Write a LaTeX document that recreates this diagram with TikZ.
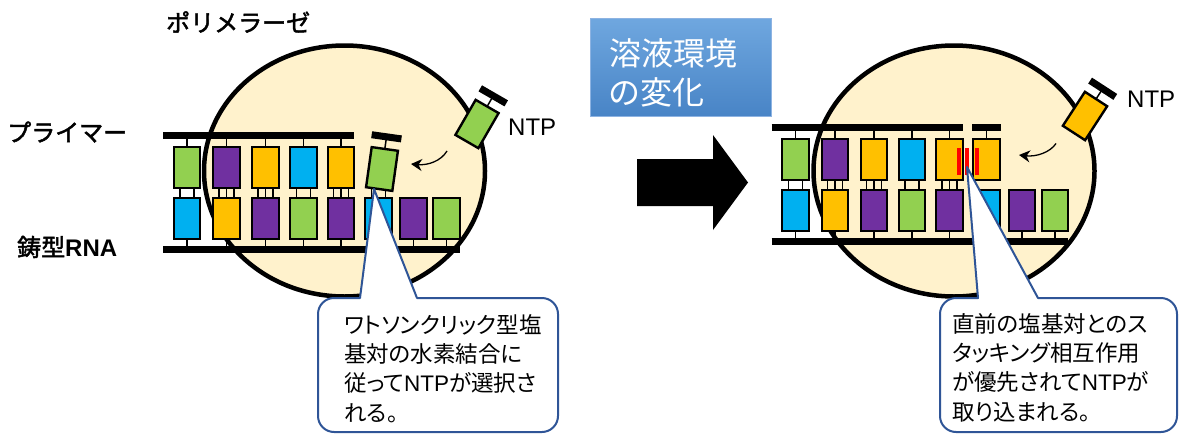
\documentclass[tikz,border=0pt]{standalone}
\usepackage{fontspec}
\setmainfont{Noto Sans CJK JP}[RawFeature=+palt, AutoFakeBold=2]
\newfontfamily\jplabel{Noto Sans CJK JP}[AutoFakeBold=2]
\newfontfamily\lat{Liberation Sans}
\usetikzlibrary{arrows.meta,shapes.geometric}

\definecolor{ntG}{HTML}{92D050}
\definecolor{ntP}{HTML}{7030A0}
\definecolor{ntY}{HTML}{FFC000}
\definecolor{ntB}{HTML}{00B0F0}
\definecolor{enz}{HTML}{FFF2CC}
\definecolor{callline}{HTML}{2F5597}
\definecolor{envtop}{HTML}{6FA7DF}
\definecolor{envbot}{HTML}{4884C6}
\definecolor{envedge}{HTML}{8DB3E2}

\tikzset{
  ntbox/.style={draw=black, line width=2.4pt, minimum width=26.5pt, minimum height=40.5pt, inner sep=0pt, outer sep=0pt},
  boxG/.style={ntbox, fill=ntG},
  boxP/.style={ntbox, fill=ntP},
  boxY/.style={ntbox, fill=ntY},
  boxB/.style={ntbox, fill=ntB},
  strandbar/.style={line width=7pt},
  link/.style={line width=1.5pt},
  enzyme/.style={ellipse, draw=black, line width=4.5pt, fill=enz, minimum width=281pt, minimum height=251pt, inner sep=0pt},
  callout/.style={draw=callline, line width=2pt, fill=white, line join=round},
  lbl/.style={anchor=west, inner sep=0pt, font=\jplabel\fontsize{24pt}{28pt}\selectfont\bfseries},
  ntplbl/.style={anchor=west, inner sep=0pt, font=\lat\fontsize{24pt}{28pt}\selectfont},
  calltext/.style={anchor=west, inner sep=0pt, align=left, font=\fontsize{22.5pt}{29.3pt}\selectfont},
  moveto/.style={line width=1.3pt, -{Stealth[length=11pt, width=12pt]}}
}

\begin{document}
\begin{tikzpicture}[x=1pt, y=-1pt]
\useasboundingbox (0,0) rectangle (1184,434);

% ---------- polymerase bodies ----------
\node[enzyme] (polL) at (344.5,171) {};
\node[enzyme] (polR) at (954,171) {};

% ---------- left: Watson-Crick selection ----------
\coordinate (LpA) at (163,135);   \coordinate (LpB) at (354,135);
\coordinate (LtA) at (163,249.5); \coordinate (LtB) at (459.5,249.5);
\foreach \i/\x/\c in {1/187/G, 2/226.5/P, 3/265.5/Y, 4/303.5/B, 5/341/Y}
  \node[box\c] (Lt\i) at (\x,167.5) {};
\foreach \i/\x/\c in {1/187/B, 2/226.5/Y, 3/265.5/P, 4/303.5/G, 5/341/P, 6/378.5/B, 7/413.5/P, 8/446.5/G}
  \node[box\c] (Lb\i) at (\x,218.5) {};
\foreach \i in {1,...,5} \draw[link] (Lt\i.north) -- (Lt\i.north |- LpA);
\foreach \i in {1,...,8} \draw[link] (Lb\i.south) -- (Lb\i.south |- LtA);
\foreach \i in {1,4} \foreach \d in {-7,7}
  \draw[link] ([xshift=\d pt]Lt\i.south) -- ([xshift=\d pt]Lb\i.north);
\foreach \i in {2,3,5} \foreach \d in {-7.5,0,7.5}
  \draw[link] ([xshift=\d pt]Lt\i.south) -- ([xshift=\d pt]Lb\i.north);
\draw[strandbar] (LpA) -- (LpB);
\draw[strandbar] (LtA) -- (LtB);
% incoming nucleotide pairing with the template
\begin{scope}[shift={(382,169)}, rotate=-8]
  \node[boxG, transform shape] (Lt6) at (0,0) {};
  \coordinate (Lt6bar) at (0,-32.5);
  \draw[link] (Lt6.north) -- (Lt6bar);
  \draw[strandbar] (-15,-32.5) -- (15,-32.5);
\end{scope}
\foreach \d in {-7,7}
  \draw[link] ([xshift=\d pt]Lb6.north) -- ([xshift=\d pt]Lb6.north |- Lt6.south);
% free NTP
\begin{scope}[shift={(477,124)}, rotate=-30]
  \node[boxG, transform shape] (LntpBox) at (0,0) {};
  \coordinate (LntpBar) at (0,-32.5);
  \draw[link] (LntpBox.north) -- (LntpBar);
  \draw[strandbar] (-15,-32.5) -- (15,-32.5);
\end{scope}
\coordinate (LmvA) at (447,151);
\coordinate (LmvB) at (411,164);
\draw[moveto] (LmvA) .. controls (441,161) and (428,165.5) .. (LmvB);

% ---------- labels ----------
\node[lbl] (polname) at (166,22) {ポリメラーゼ};
\node[lbl] (primer) at (7,132) {プライマー};
\node[lbl] (template) at (17,247) {鋳型{\lat RNA}};
\node[ntplbl] (ntpL) at (508,127) {NTP};
\node[ntplbl] (ntpR) at (1127,99) {NTP};

% ---------- change of solution conditions ----------
\node[draw=envedge, line width=0.8pt, top color=envtop, bottom color=envbot,
      minimum width=181pt, minimum height=98pt, anchor=north west, inner sep=0pt] (env) at (590,18) {};
\node[anchor=west, inner sep=0pt, align=left, text=white,
      font=\fontsize{32pt}{39pt}\selectfont] (envtext) at (609,72.5) {溶液環境\\の変化};
\fill (637,159) -- (713,159) -- (713,135) -- (748,182.5) -- (713,230) -- (713,206) -- (637,206) -- cycle;

% ---------- right: stacking-driven incorporation ----------
\begin{scope}[xshift=608.5pt, yshift=8pt]
\coordinate (RpA) at (163,135);   \coordinate (RpB) at (354.5,135);
\coordinate (RqA) at (363.5,135); \coordinate (RqB) at (392,135);
\coordinate (RtA) at (163,249.5); \coordinate (RtB) at (459.5,249.5);
\foreach \i/\x/\c in {1/187/G, 2/226.5/P, 3/265.5/Y, 4/303.5/B, 5/341/Y, 6/378/Y}
  \node[box\c] (Rt\i) at (\x,167.5) {};
\foreach \i/\x/\c in {1/187/B, 2/226.5/Y, 3/265.5/P, 4/303.5/G, 5/341/P, 6/378/B, 7/413.5/P, 8/446.5/G}
  \node[box\c] (Rb\i) at (\x,218.5) {};
\foreach \i in {1,...,6} \draw[link] (Rt\i.north) -- (Rt\i.north |- RpA);
\foreach \i in {1,...,8} \draw[link] (Rb\i.south) -- (Rb\i.south |- RtA);
\foreach \i in {1,4} \foreach \d in {-7,7}
  \draw[link] ([xshift=\d pt]Rt\i.south) -- ([xshift=\d pt]Rb\i.north);
\foreach \i in {2,3,5} \foreach \d in {-7.5,0,7.5}
  \draw[link] ([xshift=\d pt]Rt\i.south) -- ([xshift=\d pt]Rb\i.north);
\draw[strandbar] (RpA) -- (RpB);
\draw[strandbar] (RqA) -- (RqB);
\draw[strandbar] (RtA) -- (RtB);
% stacking marks between neighbouring bases
\foreach \x in {350.5,358.5,368.5}
  \draw[red, line width=3.2pt] (\x,156) -- (\x,183);
\end{scope}
\begin{scope}[shift={(1085,116)}, rotate=-33]
  \node[boxY, transform shape] (RntpBox) at (0,0) {};
  \coordinate (RntpBar) at (0,-32.5);
  \draw[link] (RntpBox.north) -- (RntpBar);
  \draw[strandbar] (-15,-32.5) -- (15,-32.5);
\end{scope}
\coordinate (RmvA) at (1056,143.5);
\coordinate (RmvB) at (1019,155);
\draw[moveto] (RmvA) .. controls (1050,152.5) and (1036,157) .. (RmvB);

% ---------- callouts ----------
\coordinate (Ltip) at (374,189);
\draw[callout] (360,298) -- (Ltip) -- (417,298) -- (542,298)
  .. controls (550.8,298) and (558,305.2) .. (558,314) -- (558,416)
  .. controls (558,424.8) and (550.8,432) .. (542,432) -- (334,432)
  .. controls (325.2,432) and (318,424.8) .. (318,416) -- (318,314)
  .. controls (318,305.2) and (325.2,298) .. (334,298) -- cycle;
\node[calltext] (noteL) at (344,368.5)
  {ワトソンクリック型塩\\基対の水素結合に\\従って{\lat NTP}が選択さ\\れる。};

\coordinate (Rtip) at (967,167);
\draw[callout] (978,298) -- (Rtip) -- (1038,298) -- (1161,298)
  .. controls (1169.8,298) and (1177,305.2) .. (1177,314) -- (1177,416)
  .. controls (1177,424.8) and (1169.8,432) .. (1161,432) -- (956,432)
  .. controls (947.2,432) and (940,424.8) .. (940,416) -- (940,314)
  .. controls (940,305.2) and (947.2,298) .. (956,298) -- cycle;
\node[calltext] (noteR) at (952,367.5)
  {直前の塩基対とのス\\タッキング相互作用\\が優先されて{\lat NTP}が\\取り込まれる。};
\end{tikzpicture}
\end{document}
